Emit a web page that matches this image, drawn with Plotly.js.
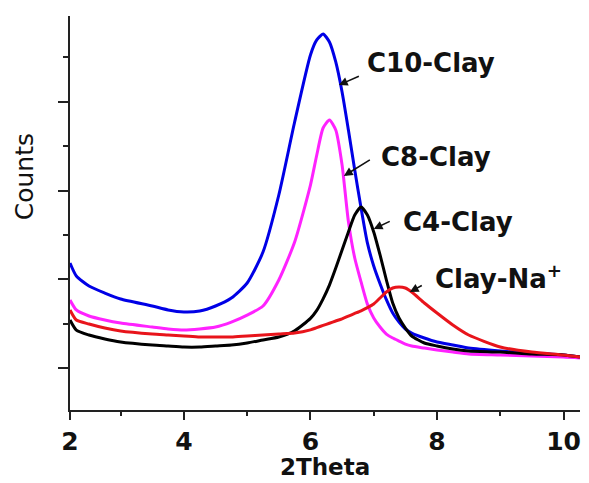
<!DOCTYPE html>
<html>
<head>
<meta charset="utf-8">
<script src="https://cdn.plot.ly/plotly-3.0.1.min.js"></script>
<style>html,body{margin:0;padding:0;background:#fff;}#chart{width:589px;height:483px;}</style>
</head>
<body>
<div id="chart"></div>
<script>
// 2Theta sample positions (degrees)
const twoTheta = [2.2,2.3,2.5,2.75,3,3.5,3.75,4,4.25,4.5,4.75,5,5.25,5.5,5.75,6,6.1,6.2,6.3,6.4,6.5,6.6,6.7,6.8,6.9,7.0,7.1,7.2,7.3,7.4,7.5,7.6,7.8,8.0,8.25,8.5,9,9.5,10,10.26];

// Counts (arbitrary units)
const c10Clay = [2183,2037,1924,1845,1778,1699,1654,1631,1642,1699,1789,1958,2307,2950,3772,4528,4697,4764,4674,4449,4111,3682,3231,2803,2410,2150,1950,1770,1620,1518,1440,1394,1338,1293,1259,1225,1192,1169,1147,1124];
const c8Clay  = [1766,1654,1586,1541,1507,1462,1440,1428,1440,1462,1518,1597,1699,1992,2420,3062,3401,3705,3795,3682,3288,2650,2240,1970,1720,1564,1462,1383,1338,1304,1270,1248,1225,1203,1180,1158,1147,1135,1124,1113];
const c4Clay  = [1541,1428,1372,1327,1293,1259,1248,1237,1237,1248,1259,1282,1316,1349,1420,1560,1650,1780,1935,2127,2330,2533,2724,2814,2724,2533,2274,1992,1733,1564,1451,1361,1282,1248,1214,1192,1180,1158,1147,1124];
const clayNa  = [1654,1541,1496,1451,1417,1383,1372,1361,1349,1349,1349,1361,1372,1383,1394,1430,1455,1480,1505,1530,1555,1585,1615,1645,1680,1721,1789,1857,1902,1913,1902,1857,1733,1620,1485,1372,1237,1180,1147,1124];

// Tick labels
const xTickVals = [2.2,4,6,8,10];
const xTickText = ['2','4','6','8','10'];
const xMinorVals = [3,5,7,9];
const yMajorVals = [1000,2000,3000,4000];
const yMinorVals = [1500,2500,3500,4500];

// Labels and arrow tips (data coords)
const labels = ['C10-Clay','C8-Clay','C4-Clay','Clay-Na<sup>+</sup>'];
const tipX = [6.449,6.528,7.0,7.57];
const tipY = [4189,3164,2567,1857];

const series = [
  {y:c10Clay, color:'#0000e6'},
  {y:c8Clay,  color:'#ff22ff'},
  {y:c4Clay,  color:'#000000'},
  {y:clayNa,  color:'#e8141b'}
];
const traces = series.map(s => ({
  x: twoTheta, y: s.y, type:'scatter', mode:'lines',
  line:{color:s.color, width:3, shape:'spline', smoothing:0.6},
  hoverinfo:'skip', showlegend:false
}));

const arrowOff = [[23,-10],[29,-18],[19,-9],[15,-8]];
const textPos = [[0.708,0.881],[0.718,0.642],[0.761,0.477],[0.841,0.338]];
const annotations = [];
labels.forEach((t,i) => {
  annotations.push({x:tipX[i], y:tipY[i], xref:'x', yref:'y', text:' ', showarrow:true,
    ax:arrowOff[i][0], ay:arrowOff[i][1], arrowhead:2, arrowsize:1.1, arrowwidth:1.6, arrowcolor:'#111'});
  annotations.push({x:textPos[i][0], y:textPos[i][1], xref:'paper', yref:'paper', text:t, showarrow:false,
    xanchor:'center', yanchor:'middle',
    font:{family:'DejaVu Sans', size:26, color:'#111', weight:'bold'}});
});
annotations.push({x:-0.09, y:0.591, xref:'paper', yref:'paper', text:'Counts', textangle:-90, showarrow:false,
  xanchor:'center', yanchor:'middle', font:{family:'DejaVu Sans', size:25, color:'#111'}});
annotations.push({x:0.5, y:-0.145, xref:'paper', yref:'paper', text:'2Theta', showarrow:false,
  xanchor:'center', yanchor:'middle', font:{family:'DejaVu Sans', size:23, color:'#111', weight:'bold'}});

const layout = {
  width:589, height:483,
  margin:{l:70, r:9, t:16, b:73},
  paper_bgcolor:'#fff', plot_bgcolor:'#fff',
  xaxis:{range:[2.2,10.26], tickmode:'array', tickvals:xTickVals, ticktext:xTickText,
    ticks:'outside', ticklen:8, tickwidth:2, tickcolor:'#222',
    showline:true, linecolor:'#222', linewidth:2, showgrid:false, zeroline:false,
    tickfont:{family:'DejaVu Sans', size:25, color:'#111', weight:'bold'},
    minor:{tickmode:'array', tickvals:xMinorVals, ticks:'outside', ticklen:4, tickwidth:2, tickcolor:'#222', showgrid:false}},
  yaxis:{range:[527,4967], tickmode:'array', tickvals:yMajorVals, showticklabels:false,
    ticks:'outside', ticklen:10, tickwidth:2, tickcolor:'#222',
    showline:true, linecolor:'#222', linewidth:2, showgrid:false, zeroline:false,
    minor:{tickmode:'array', tickvals:yMinorVals, ticks:'outside', ticklen:5, tickwidth:2, tickcolor:'#222', showgrid:false}},
  annotations: annotations,
  showlegend:false
};

Plotly.newPlot('chart', traces, layout, {staticPlot:true, displayModeBar:false});
</script>
</body>
</html>
